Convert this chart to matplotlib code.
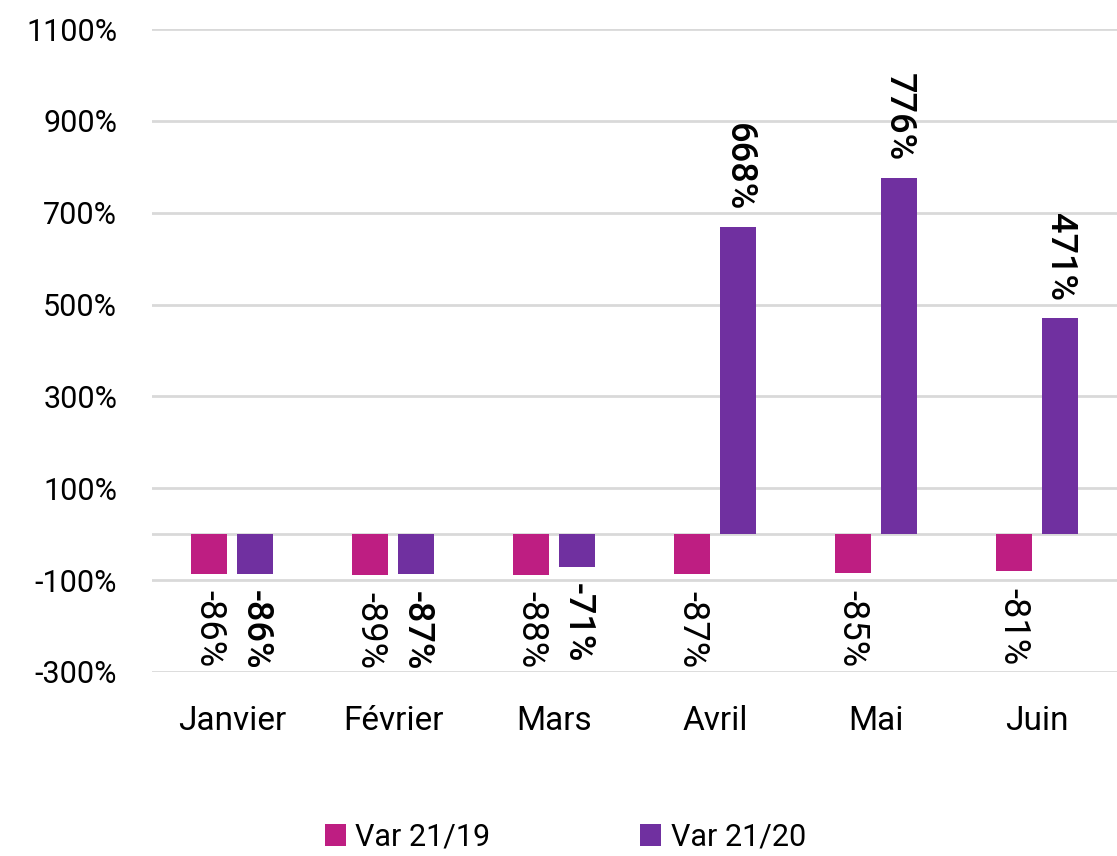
import matplotlib.pyplot as plt
import numpy as np

# ---------------------------
# Data
# ---------------------------
months = ['Janvier', 'Février', 'Mars', 'Avril', 'Mai', 'Juin']
var_21_19 = [-86, -89, -88, -87, -85, -81]
var_21_20 = [-86, -87, -71, 668, 776, 471]
y_ticks = [-300, -100, 100, 300, 500, 700, 900, 1100]

col_19 = '#BE1E82'
col_20 = '#7030A0'

plt.rcParams['font.family'] = ['Roboto', 'DejaVu Sans']

fig = plt.figure(figsize=(11.17, 8.56), dpi=100)
ax = fig.add_axes([0.136, 0.215, 0.864, 0.751])

x = np.arange(len(months))
w = 0.224
off = 0.143

b1 = ax.bar(x - off, var_21_19, width=w, color=col_19, label='Var 21/19', zorder=3)
b2 = ax.bar(x + off, var_21_20, width=w, color=col_20, label='Var 21/20', zorder=3)

# data labels, rotated like the original (reading downward)
def add_labels(bars, values, weight):
    for rect, v in zip(bars, values):
        xc = rect.get_x() + rect.get_width() / 2
        if v >= 0:
            ax.annotate(f'{v}%', (xc, v), xytext=(0, 12), textcoords='offset points',
                        rotation=-90, ha='center', va='bottom', fontsize=26,
                        fontweight=weight, color='black')
        else:
            ax.annotate(f'{v}%', (xc, v), xytext=(0, -12), textcoords='offset points',
                        rotation=-90, ha='center', va='top', fontsize=26,
                        fontweight=weight, color='black')

add_labels(b1, var_21_19, 'normal')
add_labels(b2, var_21_20, 'medium')

ax.set_ylim(-300, 1100)
ax.set_xlim(-0.5, len(months) - 0.5)
ax.set_yticks(y_ticks)
ax.set_yticklabels([f'{t}%' for t in y_ticks], fontsize=22)
ax.set_xticks(x)
ax.set_xticklabels(months, fontsize=24)
ax.tick_params(axis='both', length=0)
ax.tick_params(axis='y', pad=25)
ax.tick_params(axis='x', pad=24)

ax.grid(axis='y', color='#D9D9D9', linewidth=2, zorder=0)
ax.axhline(0, color='#D9D9D9', linewidth=2, zorder=1)
for s in ax.spines.values():
    s.set_visible(False)

fig.legend(handles=[b1, b2], labels=['Var 21/19', 'Var 21/20'], loc='center',
           bbox_to_anchor=(0.506, 0.022), ncol=2, frameon=False, fontsize=22,
           handlelength=0.7, handleheight=0.7, handletextpad=0.3, columnspacing=4.9)

fig.savefig('out.png', dpi=100)
